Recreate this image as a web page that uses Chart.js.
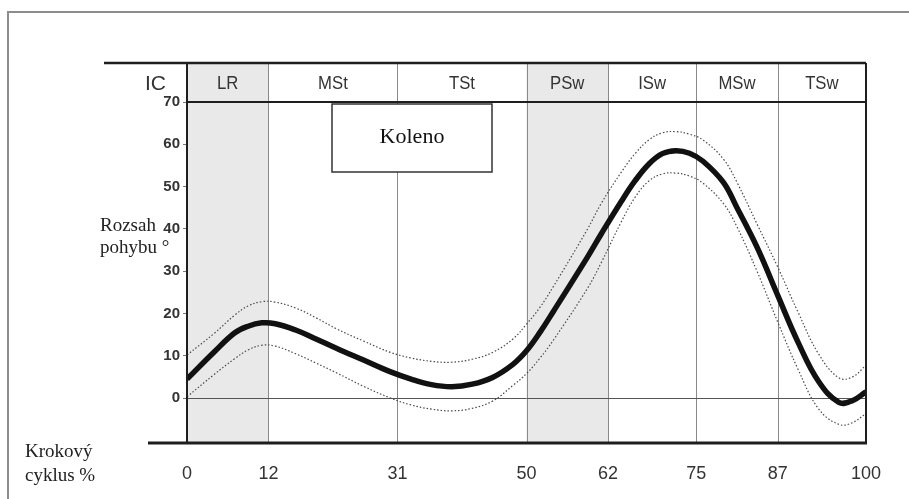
<!DOCTYPE html>
<html lang="cs">
<head>
  <meta charset="UTF-8" />
  <title>Koleno - rozsah pohybu</title>
  <script src="https://cdn.jsdelivr.net/npm/chart.js"></script>
  <style>
    body {
      margin: 0;
      background: #fff;
      overflow: hidden;
    }
    canvas {
      display: block;
    }
  </style>
</head>
<body>
  <canvas id="kneeChart" width="909" height="499"></canvas>

  <script>
    // gait cycle % (x) and knee angle in degrees
    const cyclePct = [0, 4, 7, 9, 11, 13, 16, 19, 22, 26, 30, 33, 36, 39, 42, 45, 48, 50, 52, 54,
                      59, 61, 64, 66, 68, 70, 72, 74, 76, 79, 81, 84, 87, 90, 93, 96, 98, 100];
    const meanAngle = [4.5, 10.9, 15.4, 17.0, 17.8, 17.6, 16.1, 14.0, 11.8, 9.0, 6.2, 4.5, 3.2, 2.7, 3.3, 4.9, 8.0, 11.2, 15.6, 20.6,
                       33.4, 38.8, 46.6, 51.4, 55.3, 57.8, 58.5, 57.9, 56.0, 51.0, 45.0, 35.5, 24.3, 13.2, 4.0, -1.0, -0.6, 1.5];
    const upperAngle = [10.2, 15.3, 19.6, 21.8, 22.8, 22.7, 21.3, 19.0, 16.4, 13.5, 10.8, 9.5, 8.7, 8.5, 9.2, 10.8, 14.0, 17.5, 21.5, 26.5,
                        40.0, 46.0, 53.5, 57.8, 61.0, 62.7, 63.0, 62.4, 61.0, 56.5, 51.0, 41.0, 31.0, 20.3, 10.5, 4.8, 5.0, 7.8];
    const lowerAngle = [0.3, 5.6, 9.3, 11.4, 12.5, 12.3, 10.5, 8.3, 6.0, 2.8, 0.0, -1.6, -2.6, -3.0, -2.4, -0.7, 3.0, 5.8, 9.5, 13.8,
                        26.0, 32.0, 41.8, 47.5, 51.3, 53.0, 53.2, 52.5, 50.8, 46.0, 40.5, 29.8, 18.0, 6.8, -2.5, -6.2, -5.8, -3.6];

    // gait phases
    const phaseNames = ['LR', 'MSt', 'TSt', 'PSw', 'ISw', 'MSw', 'TSw'];
    const phaseBounds = [0, 12, 31, 50, 62, 75, 87, 100];
    const shadedPhases = ['LR', 'PSw'];
    const xTicks = [0, 12, 31, 50, 62, 75, 87, 100];
    const yTicks = [0, 10, 20, 30, 40, 50, 60, 70];

    const toPoints = arr => cyclePct.map((x, i) => ({ x, y: arr[i] }));

    const sans = '"Liberation Sans", Arial, sans-serif';
    const serif = '"Liberation Serif", "DejaVu Serif", serif';

    // background shading, header band, box and side labels
    const gaitFrame = {
      id: 'gaitFrame',
      beforeDraw(chart) {
        const { ctx, chartArea: a, scales: { x } } = chart;
        const headTop = 63;
        ctx.save();
        // shaded phases
        ctx.fillStyle = '#e9e9e9';
        phaseNames.forEach((name, i) => {
          if (!shadedPhases.includes(name)) return;
          const x0 = x.getPixelForValue(phaseBounds[i]);
          const x1 = x.getPixelForValue(phaseBounds[i + 1]);
          ctx.fillRect(x0, headTop, x1 - x0, a.bottom - headTop);
        });
        // phase dividers
        ctx.strokeStyle = '#8a8a8a';
        ctx.lineWidth = 1;
        phaseBounds.slice(1, -1).forEach(v => {
          const px = Math.round(x.getPixelForValue(v)) + 0.5;
          ctx.beginPath();
          ctx.moveTo(px, headTop);
          ctx.lineTo(px, a.bottom);
          ctx.stroke();
        });
        ctx.restore();
      },
      afterDraw(chart) {
        const { ctx, chartArea: a, scales: { x } } = chart;
        const headTop = 63;
        ctx.save();

        // outer frame
        ctx.strokeStyle = '#8c8c8c';
        ctx.lineWidth = 2;
        ctx.beginPath();
        ctx.moveTo(8, 499);
        ctx.lineTo(8, 12);
        ctx.lineTo(909, 12);
        ctx.stroke();

        // header lines
        ctx.strokeStyle = '#1e1e1e';
        ctx.lineWidth = 2.5;
        ctx.beginPath();
        ctx.moveTo(104, headTop);
        ctx.lineTo(a.right, headTop);
        ctx.stroke();
        ctx.lineWidth = 2;
        ctx.beginPath();
        ctx.moveTo(a.left, a.top);
        ctx.lineTo(a.right, a.top);
        ctx.stroke();
        // left axis, right border
        ctx.beginPath();
        ctx.moveTo(a.left, headTop);
        ctx.lineTo(a.left, a.bottom);
        ctx.moveTo(a.right, headTop);
        ctx.lineTo(a.right, a.bottom);
        ctx.stroke();
        // bottom axis
        ctx.lineWidth = 3;
        ctx.beginPath();
        ctx.moveTo(148, a.bottom);
        ctx.lineTo(a.right + 1, a.bottom);
        ctx.stroke();

        // phase names (slightly condensed like the original)
        ctx.fillStyle = '#333';
        ctx.font = '19px ' + sans;
        ctx.textAlign = 'center';
        ctx.textBaseline = 'middle';
        phaseNames.forEach((name, i) => {
          const cx = (x.getPixelForValue(phaseBounds[i]) + x.getPixelForValue(phaseBounds[i + 1])) / 2;
          ctx.save();
          ctx.translate(cx, 84);
          ctx.scale(0.88, 1);
          ctx.fillText(name, 0, 0);
          ctx.restore();
        });
        ctx.textAlign = 'right';
        ctx.font = '21px ' + sans;
        ctx.fillText('IC', 166, 84);

        // Koleno box
        ctx.fillStyle = '#fff';
        ctx.fillRect(332, 104, 160, 68);
        ctx.strokeStyle = '#333';
        ctx.lineWidth = 1.5;
        ctx.strokeRect(332, 104, 160, 68);
        ctx.fillStyle = '#111';
        ctx.font = '22px ' + serif;
        ctx.textAlign = 'center';
        ctx.fillText('Koleno', 412, 137);

        // side labels
        ctx.fillStyle = '#222';
        ctx.font = '19px ' + serif;
        ctx.textAlign = 'left';
        ctx.fillText('Rozsah', 100, 226);
        ctx.fillText('pohybu °', 100, 248);
        ctx.fillText('Krokový', 25, 452);
        ctx.fillText('cyklus %', 25, 476);

        ctx.restore();
      }
    };

    const ctx = document.getElementById('kneeChart').getContext('2d');

    new Chart(ctx, {
      type: 'line',
      data: {
        datasets: [
          {
            label: 'Horní mez',
            data: toPoints(upperAngle),
            borderColor: '#4a4a4a',
            borderWidth: 1.2,
            borderDash: [1.5, 2],
            pointRadius: 0,
            tension: 0.4
          },
          {
            label: 'Dolní mez',
            data: toPoints(lowerAngle),
            borderColor: '#4a4a4a',
            borderWidth: 1.2,
            borderDash: [1.5, 2],
            pointRadius: 0,
            tension: 0.4
          },
          {
            label: 'Průměr',
            data: toPoints(meanAngle),
            borderColor: '#111',
            borderWidth: 5.5,
            pointRadius: 0,
            tension: 0.4
          }
        ]
      },
      options: {
        responsive: false,
        animation: false,
        layout: {
          padding: { left: 0, top: 102, right: 43, bottom: 0 }
        },
        scales: {
          x: {
            type: 'linear',
            min: 0,
            max: 100,
            afterBuildTicks: scale => { scale.ticks = xTicks.map(v => ({ value: v })); },
            afterFit: scale => { scale.height = 56; },
            border: { display: false },
            grid: { display: false },
            ticks: {
              color: '#333',
              padding: 12,
              maxRotation: 0,
              font: { family: sans, size: 18 }
            }
          },
          y: {
            min: -10.6,
            max: 70,
            afterBuildTicks: scale => { scale.ticks = yTicks.map(v => ({ value: v })); },
            afterFit: scale => { scale.width = 187; },
            border: { display: false },
            grid: {
              drawOnChartArea: true,
              color: c => c.tick.value === 0 ? '#555' : 'rgba(0,0,0,0)',
              lineWidth: 1,
              tickColor: '#777',
              tickLength: 4
            },
            ticks: {
              color: '#333',
              padding: 3,
              font: { family: sans, size: 15, weight: 'bold' }
            }
          }
        },
        plugins: {
          legend: { display: false },
          tooltip: { enabled: false }
        }
      },
      plugins: [gaitFrame]
    });
  </script>
</body>
</html>
